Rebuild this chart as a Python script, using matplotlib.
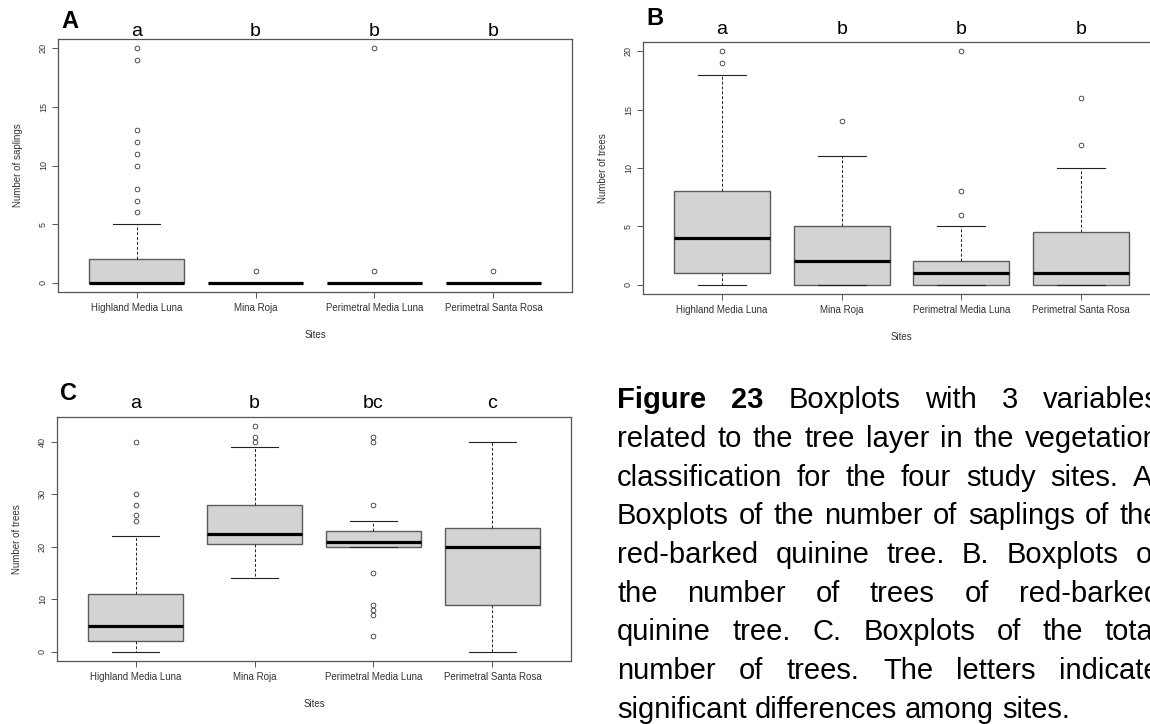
import numpy as np
import matplotlib
matplotlib.use("Agg")
import matplotlib.pyplot as plt

plt.rcParams['font.family'] = ['Liberation Sans', 'DejaVu Sans']

W, H = 1150, 724

sites = ["Highland Media Luna", "Mina Roja", "Perimetral Media Luna", "Perimetral Santa Rosa"]

# A: number of saplings
sap_whislo = [0, 0, 0, 0]
sap_q1 = [0, 0, 0, 0]
sap_med = [0, 0, 0, 0]
sap_q3 = [2, 0, 0, 0]
sap_whishi = [5, 0, 0, 0]
sap_fliers = [[6, 7, 8, 10, 11, 12, 13, 19, 20], [1], [1, 20], [1]]
sap_letters = ["a", "b", "b", "b"]

# B: number of red-barked trees
tree_whislo = [0, 0, 0, 0]
tree_q1 = [1, 0, 0, 0]
tree_med = [4, 2, 1, 1]
tree_q3 = [8, 5, 2, 4.5]
tree_whishi = [18, 11, 5, 10]
tree_fliers = [[19, 20], [14], [6, 8, 20], [12, 16]]
tree_letters = ["a", "b", "b", "b"]

# C: total number of trees
tot_whislo = [0, 14, 20, 0]
tot_q1 = [2, 20.5, 20, 9]
tot_med = [5, 22.5, 21, 20]
tot_q3 = [11, 28, 23, 23.5]
tot_whishi = [22, 39, 25, 40]
tot_fliers = [[25, 26, 28, 30, 40], [40, 41, 43], [3, 7, 8, 9, 15, 28, 40, 41], []]
tot_letters = ["a", "b", "bc", "c"]

caption_lines = [
    [("Figure", True), ("23", True), ("Boxplots", False), ("with", False), ("3", False), ("variables", False)],
    "related to the tree layer in the vegetation",
    "classification for the four study sites. A.",
    "Boxplots of the number of saplings of the",
    "red-barked quinine tree. B. Boxplots of",
    "the number of trees of red-barked",
    "quinine tree. C. Boxplots of the total",
    "number of trees. The letters indicate",
    "significant differences among sites.",
]


def px_rect(l, t, r, b):
    return [l / W, 1 - b / H, (r - l) / W, (b - t) / H]


def panel(fig, rect, whislo, q1, med, q3, whishi, fliers, letters,
          ymax, yticks, ylabel, tag, letter_off):
    ax = fig.add_axes(rect)
    stats = []
    for i in range(len(sites)):
        stats.append(dict(med=med[i], q1=q1[i], q3=q3[i], whislo=whislo[i],
                          whishi=whishi[i], fliers=fliers[i], label=sites[i]))
    ax.bxp(stats, positions=[1, 2, 3, 4], widths=0.8, capwidths=0.4,
           patch_artist=True,
           boxprops=dict(facecolor="#d3d3d3", edgecolor="#5c5c5c", linewidth=1.0),
           medianprops=dict(color="black", linewidth=2.3, solid_capstyle="butt"),
           whiskerprops=dict(color="#222222", linewidth=0.7, linestyle=(0, (3, 2))),
           capprops=dict(color="#222222", linewidth=0.8),
           flierprops=dict(marker="o", markerfacecolor="none", markeredgecolor="#333333",
                           markersize=3.4, markeredgewidth=0.6))
    ax.set_xlim(0.34, 4.66)
    ax.set_ylim(-0.04 * ymax, ymax * 1.04)
    ax.set_yticks(yticks)
    ax.set_yticklabels([str(v) for v in yticks], rotation=90, va="center", fontsize=6.5, color="#333333")
    ax.set_xticks([1, 2, 3, 4])
    ax.set_xticklabels(sites, fontsize=7, color="#333333")
    ax.tick_params(axis="both", length=4.3, width=0.7, color="#555555")
    ax.tick_params(axis="y", pad=3)
    ax.tick_params(axis="x", pad=3.5)
    for s in ax.spines.values():
        s.set_color("#555555")
        s.set_linewidth(0.9)
    wpx = rect[2] * W
    hpx = rect[3] * H
    ax.text(-40 / wpx, 0.5, ylabel, transform=ax.transAxes, rotation=90,
            ha="center", va="center", fontsize=7, color="#333333")
    ax.text(0.5, -43 / hpx, "Sites", transform=ax.transAxes,
            ha="center", va="center", fontsize=7, color="#333333")
    for i, lt in enumerate(letters):
        ax.annotate(lt, xy=(i + 1, 1), xycoords=("data", "axes fraction"),
                    xytext=(0, letter_off), textcoords="offset points",
                    ha="center", va="baseline", fontsize=14, annotation_clip=False)
    ax.text(3 / wpx, 1 + (letter_off + 6) / 72 * 100 / hpx, tag, transform=ax.transAxes,
            ha="left", va="baseline", fontsize=17, fontweight="bold")
    return ax


fig = plt.figure(figsize=(W / 100, H / 100), dpi=100)

panel(fig, px_rect(58, 39, 572, 292), sap_whislo, sap_q1, sap_med, sap_q3, sap_whishi,
      sap_fliers, sap_letters, 20, [0, 5, 10, 15, 20], "Number of saplings", "A", 2)
panel(fig, px_rect(643, 42, 1160, 294), tree_whislo, tree_q1, tree_med, tree_q3, tree_whishi,
      tree_fliers, tree_letters, 20, [0, 5, 10, 15, 20], "Number of trees", "B", 6)
panel(fig, px_rect(57, 417, 571, 661), tot_whislo, tot_q1, tot_med, tot_q3, tot_whishi,
      tot_fliers, tot_letters, 43, [0, 10, 20, 30, 40], "Number of trees", "C", 6.5)

# justified caption, words spread to the right margin (cut by the page edge)
renderer = fig.canvas.get_renderer()
left_px, right_px = 617, 1160
base0, step = 408, 38.75
cap_size = 21
space_w = 0.278 * cap_size * 100 / 72
for li, line in enumerate(caption_lines):
    if isinstance(line, str):
        words = [(w, False) for w in line.split()]
    else:
        words = line
    y = 1 - (base0 + li * step) / H
    texts = []
    for w, bold in words:
        t = fig.text(0, y, w, fontsize=cap_size, fontweight="bold" if bold else "normal",
                     ha="left", va="baseline", color="black")
        texts.append(t)
    widths = [t.get_window_extent(renderer).width for t in texts]
    if li == len(caption_lines) - 1:
        gap = space_w
    else:
        gap = max(space_w, (right_px - left_px - sum(widths)) / (len(words) - 1))
    x = left_px
    for t, wd in zip(texts, widths):
        t.set_x(x / W)
        x += wd + gap

fig.savefig("out.png", dpi=100)
